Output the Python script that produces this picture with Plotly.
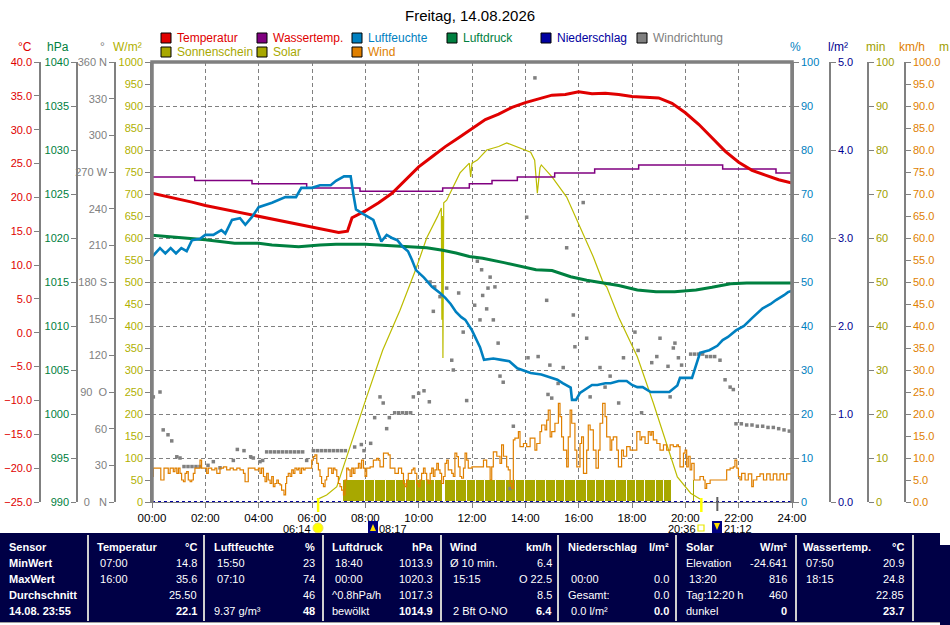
import plotly.graph_objects as go

# ---------------- data (hours since 00:00) ----------------
temp_h = [0, 0.5, 1, 1.5, 2, 2.5, 3, 3.5, 4, 4.5, 5, 5.5, 6, 6.5, 7, 7.33, 7.5, 8, 8.5, 9, 9.5, 10,
          10.5, 11, 11.5, 12, 12.5, 13, 13.5, 14, 14.5, 15, 15.5, 16, 16.5, 17, 17.5, 18, 18.5, 19,
          19.5, 20, 20.5, 21, 21.5, 22, 22.5, 23, 23.5, 24]
temp_c = [20.6, 20.2, 19.7, 19.3, 18.8, 18.4, 18.0, 17.6, 17.2, 16.8, 16.4, 16.0, 15.6, 15.2, 14.8,
          15.0, 17.0, 18.0, 19.2, 20.6, 22.5, 24.5, 26.0, 27.5, 28.8, 30.2, 31.5, 32.3, 33.3, 34.0,
          34.6, 35.1, 35.2, 35.6, 35.3, 35.4, 35.2, 34.9, 34.8, 34.7, 33.9, 32.5, 30.8, 28.8, 26.8,
          25.2, 24.0, 23.3, 22.6, 22.1]

water_h = [0, 1.6, 3.75, 5.8, 7.8, 10.9, 11.9, 12.75, 13.7, 15.1, 16.6, 18.25, 21.4, 23.4, 24]
water_c = [23.0, 22.5, 22.0, 21.4, 20.9, 21.4, 22.0, 22.5, 23.0, 23.6, 24.2, 24.8, 24.2, 23.6, 23.6]

hum_h = [0, 0.3, 0.5, 0.7, 0.9, 1.1, 1.3, 1.5, 1.8, 2.0, 2.3, 2.6, 2.75, 3.0, 3.3, 3.5, 3.75, 4.0,
         4.5, 5.0, 5.4, 5.6, 6.0, 6.3, 6.7, 6.9, 7.2, 7.45, 7.55, 7.65, 7.85, 8.1, 8.3, 8.6, 8.8,
         9.0, 9.2, 9.4, 9.6, 9.75, 9.9, 10.2, 10.5, 10.8, 11.0, 11.2, 11.4, 11.6, 11.75, 12.0, 12.3,
         12.45, 12.8, 13.1, 13.4, 13.7, 14.0, 14.2, 14.6, 14.9, 15.2, 15.4, 15.7, 15.75, 15.9, 16.05,
         16.3, 16.5, 16.7, 17.0, 17.2, 17.5, 17.8, 18.0, 18.2, 18.4, 18.7, 19.0, 19.4, 19.7, 19.8,
         20.25, 20.4, 20.55, 20.9, 21.2, 21.4, 21.6, 21.9, 22.2, 22.5, 22.9, 23.2, 23.4, 23.7, 23.85, 24]
hum_pct = [55.7, 57.7, 56.5, 57.7, 56.5, 57.7, 57.0, 59.5, 59.8, 60.7, 60.7, 61.8, 61.0, 64.1, 64.5,
           63.0, 64.8, 67.0, 68.0, 69.3, 69.3, 71.4, 71.4, 72.0, 72.0, 73.0, 74.0, 74.0, 70.0, 66.5,
           65.7, 64.8, 64.1, 59.2, 60.7, 60.0, 59.5, 58.0, 57.0, 55.0, 52.7, 51.0, 48.9, 47.5, 46.4,
           45.0, 43.2, 42.0, 41.4, 39.0, 35.2, 32.3, 32.6, 32.3, 32.0, 30.4, 29.8, 29.3, 29.0, 28.4,
           27.8, 27.0, 26.0, 23.2, 23.2, 24.8, 25.8, 26.6, 26.6, 27.0, 27.0, 27.5, 27.5, 26.6, 26.1,
           26.1, 25.0, 25.0, 25.0, 26.5, 28.2, 28.2, 31.0, 33.9, 34.5, 35.5, 36.8, 37.5, 39.0, 40.0,
           41.8, 44.0, 45.0, 45.9, 47.0, 47.7, 48.0]

press_h = [0, 1.25, 2.0, 3.1, 4.0, 4.5, 5.5, 6.3, 6.9, 8.0, 9.5, 10.3, 10.9, 11.4, 11.9, 12.4, 13.2,
           13.8, 14.4, 15.0, 15.7, 16.3, 16.9, 17.5, 18.2, 18.9, 19.6, 20.4, 21.0, 21.7, 22.3, 23.0, 24]
press_hpa = [1020.3, 1020.0, 1019.8, 1019.4, 1019.4, 1019.2, 1019.0, 1019.2, 1019.3, 1019.3, 1019.0,
             1018.9, 1018.6, 1018.3, 1017.9, 1017.7, 1017.2, 1016.8, 1016.4, 1016.3, 1015.6, 1015.2,
             1014.9, 1014.6, 1014.1, 1013.9, 1013.9, 1014.1, 1014.4, 1014.8, 1014.9, 1014.9, 1014.9]

solar_h = [6.2, 6.55, 6.93, 7.3, 7.55, 8.05, 8.65, 9.3, 9.9, 10.3, 10.7, 10.85, 10.87, 10.89, 10.91,
           10.94, 11.05, 11.55, 11.9, 11.95, 12.0, 12.2, 12.55, 13.0, 13.3, 13.8, 14.2, 14.35, 14.45,
           14.55, 14.6, 15.0, 15.55, 16.05, 16.55, 16.93, 17.05, 17.5, 18.2, 18.8, 19.3, 19.7, 20.2, 20.55]
solar_w = [6, 16, 35, 103, 145, 239, 345, 436, 530, 600, 648, 668, 414, 650, 327, 680, 686, 748, 770,
           739, 770, 777, 800, 808, 816, 804, 795, 777, 702, 760, 766, 739, 693, 625, 557, 497, 489,
           420, 330, 225, 134, 57, 20, 7]

sun_start = [7.15, 7.99, 8.36, 8.76, 9.15, 9.53, 9.90, 10.28, 10.60, 11.00, 11.40, 11.80, 12.15,
             12.50, 12.90, 13.28, 13.65, 14.00, 14.40, 14.78, 15.15, 15.50, 15.90, 16.30, 16.65,
             17.00, 17.40, 17.80, 18.15, 18.50, 18.90, 19.20, 20.30]
sun_end = [7.99, 8.36, 8.76, 9.15, 9.53, 9.90, 10.28, 10.60, 10.90, 11.40, 11.80, 12.15, 12.50,
           12.90, 13.28, 13.65, 14.00, 14.40, 14.78, 15.15, 15.50, 15.90, 16.30, 16.65, 17.00,
           17.40, 17.80, 18.15, 18.50, 18.90, 19.20, 19.49, 20.37]
sun_min = [5, 5, 5, 5, 5, 5, 5, 5, 5, 5, 5, 5, 5, 5, 5, 5, 5, 5, 5, 5, 5, 5, 5, 5, 5, 5, 5, 5, 5, 5,
           5, 5, 5]

wind_h = [0.0, 0.05, 0.3, 0.33, 0.43, 0.45, 0.61, 0.68, 0.74, 0.8, 0.86, 0.93, 0.99, 1.05, 1.11, 1.18,
          1.24, 1.3, 1.36, 1.43, 1.49, 1.55, 1.61, 1.74, 1.8, 1.86, 1.99, 2.05, 2.11, 2.24, 2.36, 2.43,
          2.55, 2.68, 2.8, 2.93, 3.05, 3.18, 3.3, 3.43, 3.49, 3.55, 3.61, 3.74, 3.86, 3.99, 4.05, 4.11,
          4.18, 4.24, 4.3, 4.36, 4.43, 4.49, 4.55, 4.61, 4.68, 4.74, 4.8, 4.86, 4.95, 5.01, 5.05, 5.11,
          5.18, 5.24, 5.3, 5.36, 5.43, 5.49, 5.55, 5.61, 5.68, 5.74, 5.86, 5.99, 6.05, 6.11, 6.18, 6.24,
          6.3, 6.36, 6.43, 6.49, 6.55, 6.61, 6.68, 6.74, 6.8, 6.86, 6.93, 6.99, 7.05, 7.11, 7.18, 7.24,
          7.3, 7.36, 7.43, 7.49, 7.55, 7.61, 7.68, 7.74, 7.8, 7.86, 7.93, 7.99, 8.05, 8.18, 8.3, 8.36,
          8.43, 8.49, 8.55, 8.68, 8.8, 8.86, 8.93, 9.05, 9.11, 9.24, 9.36, 9.43, 9.49, 9.55, 9.61, 9.68,
          9.74, 9.8, 9.86, 9.93, 9.99, 10.05, 10.11, 10.18, 10.24, 10.3, 10.36, 10.43, 10.49, 10.55,
          10.61, 10.68, 10.74, 10.8, 10.86, 10.93, 10.99, 11.05, 11.11, 11.24, 11.3, 11.36, 11.43, 11.49,
          11.55, 11.61, 11.68, 11.74, 11.8, 11.86, 12.0, 12.3, 12.43, 12.55, 12.68, 12.74, 12.8, 12.93,
          13.05, 13.11, 13.18, 13.3, 13.36, 13.43, 13.49, 13.55, 13.61, 13.74, 13.8, 13.93, 14.05, 14.18,
          14.3, 14.36, 14.43, 14.55, 14.61, 14.74, 14.8, 14.86, 14.93, 14.99, 15.11, 15.24, 15.3, 15.36,
          15.43, 15.55, 15.61, 15.68, 15.74, 15.86, 15.93, 16.05, 16.11, 16.18, 16.3, 16.36, 16.43, 16.55,
          16.65, 16.74, 16.8, 16.9, 16.99, 17.05, 17.18, 17.24, 17.3, 17.43, 17.49, 17.61, 17.68, 17.8,
          17.93, 18.05, 18.18, 18.3, 18.36, 18.49, 18.61, 18.68, 18.74, 18.8, 18.93, 19.05, 19.18, 19.3,
          19.43, 19.55, 19.68, 19.74, 19.8, 19.93, 19.99, 20.05, 20.11, 20.18, 20.24, 20.33, 20.43, 20.55,
          20.68, 20.74, 20.8, 20.93, 21.43, 21.55, 21.68, 21.8, 21.86, 21.93, 21.99, 22.05, 22.11, 22.24,
          22.36, 22.49, 22.55, 22.68, 22.8, 22.93, 23.05, 23.18, 23.3, 23.43, 23.55, 23.68, 23.8, 23.9, 24.0]
wind_kmh = [5.8, 7.7, 7.7, 5.0, 5.0, 7.7, 6.5, 7.7, 7.7, 6.9, 7.7, 6.5, 7.7, 6.5, 5.0, 4.6,
            6.5, 6.9, 5.0, 4.6, 5.0, 6.5, 7.7, 7.7, 9.5, 7.7, 7.7, 6.5, 7.7, 7.3, 7.7, 6.5,
            7.7, 8.0, 7.3, 7.7, 7.3, 7.7, 7.3, 6.5, 4.6, 4.6, 7.7, 7.7, 7.3, 7.7, 6.5, 7.7,
            5.8, 4.6, 6.5, 5.0, 4.2, 5.8, 3.5, 4.2, 5.0, 4.2, 3.9, 2.7, 1.6, 4.2, 5.8, 6.5,
            5.8, 7.3, 6.5, 7.7, 7.3, 7.7, 6.5, 7.7, 7.3, 7.7, 7.7, 9.5, 10.3, 10.7, 8.8, 7.3,
            5.8, 4.2, 3.5, 5.0, 5.8, 7.7, 7.7, 6.5, 7.7, 7.3, 5.8, 4.2, 3.5, 2.7, 1.6, 5.0,
            7.7, 7.3, 5.8, 7.7, 6.5, 7.7, 7.7, 8.8, 7.7, 9.5, 7.7, 5.8, 7.7, 8.0, 9.5, 9.5,
            9.9, 9.5, 8.0, 11.1, 11.1, 10.7, 7.7, 7.7, 6.5, 7.7, 6.5, 4.2, 3.5, 5.0, 6.5, 6.5,
            7.3, 7.7, 6.5, 4.2, 3.5, 5.0, 6.5, 7.7, 6.5, 5.0, 4.2, 6.5, 7.7, 5.8,
            7.3, 8.8, 7.3, 6.5, 4.2, 5.8, 8.8, 9.5, 7.3, 6.5, 5.8, 11.1, 10.3, 8.0,
            5.8, 5.4, 7.7, 11.1, 9.5, 7.7, 8.0, 8.0, 9.5, 8.0, 5.0, 8.0, 11.4, 10.4,
            8.8, 13.0, 10.4, 8.0, 7.3, 4.2, 3.1, 14.1, 14.5, 16.0, 12.6, 13.3, 12.6, 14.5,
            14.5, 11.8, 13.3, 16.0, 17.5, 16.4, 18.6, 20.9, 14.8, 16.0, 17.9, 22.4, 19.4, 14.8,
            11.8, 8.0, 14.8, 20.9, 17.9, 11.8, 8.0, 13.3, 14.8, 6.5, 11.8, 17.5, 16.4, 11.8,
            7.7, 11.8, 17.9, 22.4, 19.4, 14.8, 11.8, 14.1, 14.8, 11.8, 8.0, 11.8, 10.4, 12.6,
            11.8, 11.8, 16.0, 14.1, 14.8, 13.3, 16.0, 15.2, 16.0, 14.1, 13.3, 11.8, 13.0, 11.8,
            13.0, 12.6, 13.0, 12.6, 8.0, 11.1, 11.8, 8.0, 10.4, 7.3, 8.8, 5.0, 5.0, 5.8,
            5.0, 3.1, 4.2, 5.0, 5.0, 7.3, 7.7, 8.0, 9.5, 7.7, 5.8, 5.0, 6.5, 5.0,
            6.4, 3.5, 5.0, 5.8, 6.4, 5.0, 6.4, 5.0, 6.4, 5.0, 6.4, 5.0, 6.4, 6.4, 6.4]

wdir_h = [0.05, 0.3, 0.42, 0.6, 0.74, 0.93, 1.05, 1.2, 1.35, 1.5, 1.65, 1.8, 2.1, 2.3, 2.55, 3.05, 3.2,
          3.45, 3.7, 3.8, 4.05, 4.15, 4.3, 4.45, 4.6, 4.75, 4.9, 5.05, 5.2, 5.35, 5.5, 5.65, 5.8, 6.05,
          6.2, 6.35, 6.5, 6.65, 6.8, 6.95, 7.1, 7.25, 7.6, 7.85, 7.95, 8.2, 8.35, 8.55, 8.67, 8.8, 8.9,
          9.1, 9.25, 9.4, 9.55, 9.7, 9.8, 10.0, 10.2, 10.4, 10.43, 10.55, 10.6, 10.8, 11.05, 11.24, 11.3,
          11.5, 11.67, 11.8, 12.1, 12.2, 12.3, 12.36, 12.4, 12.55, 12.6, 12.68, 12.8, 12.86, 12.98, 13.05,
          13.17, 13.43, 13.55, 14.05, 14.1, 14.36, 14.48, 14.8, 14.85, 14.92, 14.99, 15.23, 15.42, 15.55,
          15.8, 15.86, 16.17, 16.3, 16.43, 16.8, 16.99, 17.18, 17.5, 17.68, 18.11, 18.23, 18.36, 18.74,
          18.93, 19.05, 19.35, 19.43, 19.55, 19.61, 19.74, 19.86, 20.2, 20.35, 20.5, 20.65, 20.8, 20.95,
          21.1, 21.3, 21.49, 21.68, 21.8, 21.9, 22.1, 22.3, 22.5, 22.7, 22.9, 23.1, 23.3, 23.5, 23.7, 23.9]
wdir_deg = [86, 90, 59, 55, 50, 37, 36, 29, 29, 29, 29, 29, 30, 33, 28, 34, 43, 42, 37, 36, 33, 34, 41,
            41, 41, 41, 41, 41, 41, 41, 41, 41, 34, 42, 42, 42, 42, 42, 42, 42, 42, 42, 45, 47, 42, 48,
            69, 86, 81, 60, 69, 73, 73, 73, 73, 73, 86, 89, 91, 82, 180, 156, 176, 168, 175, 116, 108,
            171, 139, 83, 161, 197, 149, 190, 169, 158, 175, 184, 149, 176, 130, 103, 98, 11, 62, 233,
            118, 347, 119, 165, 88, 112, 85, 97, 110, 208, 153, 127, 245, 134, 86, 110, 94, 103, 81, 118,
            139, 124, 73, 114, 119, 134, 111, 86, 126, 130, 118, 112, 121, 121, 121, 121, 119, 119, 119,
            116, 100, 94, 92, 64, 64, 63, 63, 62, 62, 61, 61, 60, 59, 58]

rain_h = [0, 24]
rain_l = [0.0, 0.0]

sunrise_h, sunset_h, moonrise_h = 6.23, 20.6, 21.2

hour_ticks = list(range(0, 25, 2))
hour_text = ["%02d:00" % h for h in hour_ticks]
deg_ticks = list(range(0, 361, 30))
deg_text = ["0\u00a0\u00a0\u00a0N", "30", "60", "90\u00a0\u00a0O", "120", "150", "180 S", "210", "240",
            "270 W", "300", "330", "360 N"]

table_rows = ["Sensor", "MinWert", "MaxWert", "Durchschnitt", "14.08. 23:55"]
table_cols = [
    ("Temperatur", "°C", [("\u00a007:00", "14.8"), ("\u00a016:00", "35.6"), ("", "25.50"), ("", "22.1")]),
    ("Luftfeuchte", "%", [("\u00a015:50", "23"), ("\u00a007:10", "74"), ("", "46"), ("9.37 g/m³", "48")]),
    ("Luftdruck", "hPa", [("\u00a018:40", "1013.9"), ("\u00a000:00", "1020.3"), ("^0.8hPa/h", "1017.3"),
                          ("bewölkt", "1014.9")]),
    ("Wind", "km/h", [("Ø 10 min.", "6.4"), ("\u00a015:15", "O 22.5"), ("", "8.5"), ("\u00a02 Bft O-NO", "6.4")]),
    ("Niederschlag", "l/m²", [("", ""), ("\u00a000:00", "0.0"), ("Gesamt:", "0.0"), ("\u00a00.0 l/m²", "0.0")]),
    ("Solar", "W/m²", [("Elevation", "-24.641"), ("\u00a013:20", "816"), ("Tag:12:20 h", "460"), ("dunkel", "0")]),
    ("Wassertemp.", "°C", [("\u00a007:50", "20.9"), ("\u00a018:15", "24.8"), ("", "22.85"), ("", "23.7")]),
]

# ---------------- colours ----------------
RED, PURPLE, BLUE, GREEN = "#e00000", "#800080", "#0080c0", "#008040"
DKBLUE, GRAY, OLIVE, SOLAR, ORANGE = "#0000a0", "#808080", "#a8a800", "#bcbc00", "#e08000"
NAVY = "#000046"
FONT = "Liberation Sans"
FS = 11

W, H = 950, 625


def px(x):
    return x / W


def py(y):
    return 1 - y / H


fig = go.Figure()

# Sonnenschein (base axis "min")
fig.add_trace(go.Bar(x=[(a + b) / 2 for a, b in zip(sun_start, sun_end)],
                     width=[b - a for a, b in zip(sun_start, sun_end)], y=sun_min,
                     marker=dict(color=OLIVE, line=dict(color="white", width=1)),
                     yaxis="y", name="Sonnenschein"))
fig.add_trace(go.Scatter(x=solar_h, y=solar_w, mode="lines", line=dict(color=SOLAR, width=1.2),
                         yaxis="y2", name="Solar"))
fig.add_trace(go.Scatter(x=water_h, y=water_c, mode="lines", line=dict(color=PURPLE, width=1.5, shape="hv"),
                         yaxis="y3", name="Wassertemp."))
fig.add_trace(go.Scatter(x=temp_h, y=temp_c, mode="lines", line=dict(color=RED, width=3),
                         yaxis="y3", name="Temperatur"))
fig.add_trace(go.Scatter(x=press_h, y=press_hpa, mode="lines", line=dict(color=GREEN, width=3),
                         yaxis="y4", name="Luftdruck"))
fig.add_trace(go.Scatter(x=wdir_h, y=wdir_deg, mode="markers",
                         marker=dict(color=GRAY, size=3.5, symbol="square"),
                         yaxis="y5", name="Windrichtung"))
fig.add_trace(go.Scatter(x=hum_h, y=hum_pct, mode="lines", line=dict(color=BLUE, width=2.6),
                         yaxis="y6", name="Luftfeuchte"))
fig.add_trace(go.Scatter(x=rain_h, y=rain_l, mode="lines", line=dict(color=DKBLUE, width=2, dash="dot"),
                         yaxis="y7", name="Niederschlag"))
fig.add_trace(go.Scatter(x=wind_h, y=wind_kmh, mode="lines", line=dict(color=ORANGE, width=1.2, shape="hv"),
                         yaxis="y8", name="Wind"))

ydom = [py(502), py(62)]


def yax(color, rng, side, pos=None, **kw):
    d = dict(range=rng, side=side, showgrid=False, zeroline=False, showline=True, linecolor=GRAY,
             linewidth=1.5, ticks="outside", ticklen=5, tickcolor=GRAY, automargin=False,
             tickfont=dict(color=color, size=FS, family=FONT), fixedrange=True)
    if pos is None:
        d["anchor"] = "x"
    else:
        d["anchor"] = "free"
        d["position"] = pos
    d.update(kw)
    return d


fig.update_layout(
    width=W, height=H, margin=dict(l=0, r=0, t=0, b=0, pad=0, autoexpand=False),
    paper_bgcolor="white", plot_bgcolor="white", showlegend=False, bargap=0,
    xaxis=dict(domain=[px(152), px(792)], range=[0, 24], tickvals=hour_ticks, ticktext=hour_text,
               showgrid=True, gridcolor=GRAY, griddash="4px,3px", gridwidth=1, zeroline=False,
               showline=True, linecolor=GRAY, ticks="outside", ticklen=5, tickcolor=GRAY,
               automargin=False, fixedrange=True,
               tickfont=dict(color="black", size=FS + 0.5, family=FONT)),
    yaxis=yax("#a0a000", [0, 100], "right", px(868), dtick=10, domain=ydom,
              showgrid=True, gridcolor=GRAY, griddash="4px,3px", gridwidth=1),
    yaxis2=yax("#b0b000", [0, 1000], "left", None, dtick=50, overlaying="y"),
    yaxis3=yax(RED, [-25, 40], "left", px(40), dtick=5, tickformat=".1f", overlaying="y"),
    yaxis4=yax(GREEN, [990, 1040], "left", px(77), dtick=5, overlaying="y"),
    yaxis5=yax(GRAY, [0, 360], "left", px(115), tickvals=deg_ticks, ticktext=deg_text, overlaying="y"),
    yaxis6=yax(BLUE, [0, 100], "right", None, dtick=10, overlaying="y"),
    yaxis7=yax("#000090", [0, 5], "right", px(830), dtick=1, tickformat=".1f", overlaying="y"),
    yaxis8=yax(ORANGE, [0, 100], "right", px(905), dtick=5, tickformat=".1f", overlaying="y"),
    yaxis9=yax(OLIVE, [-2.3, 97.7], "right", px(945), dtick=10, showticklabels=False, overlaying="y"),
)

shapes = []
ann = []

# frame of the plot area
shapes.append(dict(type="path", xref="x domain", yref="y domain", path="M 0,0 L 0,1 L 1,1 L 1,0",
                   line=dict(color=GRAY, width=3.5)))


def text(x, y, s, color="black", size=FS, anchor="left", bold=False):
    ann.append(dict(x=px(x), y=py(y), xref="paper", yref="paper", text=("<b>%s</b>" % s) if bold else s,
                    showarrow=False, xanchor=anchor, yanchor="middle", borderpad=0,
                    font=dict(color=color, size=size, family=FONT)))


text(470, 15, "Freitag, 14.08.2026", size=15, anchor="center")

# axis titles
for x, s, c, a in [(25, "°C", RED, "center"), (58, "hPa", GREEN, "center"), (102, "°", GRAY, "center"),
                   (127, "W/m²", "#b0b000", "center"), (795, "%", BLUE, "center"),
                   (838, "l/m²", "#000090", "center"), (875, "min", "#a0a000", "center"),
                   (912, "km/h", ORANGE, "center"), (950, "m", "#a0a000", "right")]:
    text(x, 47, s, c, size=FS + 1, anchor=a)

# legend
legend = [(161, 38, "Temperatur", RED, RED), (257, 38, "Wassertemp.", PURPLE, RED),
          (352, 38, "Luftfeuchte", BLUE, BLUE), (447, 38, "Luftdruck", GREEN, GREEN),
          (541, 38, "Niederschlag", DKBLUE, DKBLUE), (637, 38, "Windrichtung", GRAY, GRAY),
          (161, 52, "Sonnenschein", OLIVE, OLIVE), (257, 52, "Solar", OLIVE, OLIVE),
          (352, 52, "Wind", ORANGE, ORANGE)]
for x, y, s, sq, tc in legend:
    shapes.append(dict(type="rect", xref="paper", yref="paper", x0=px(x), x1=px(x + 10),
                       y0=py(y + 5), y1=py(y - 5), fillcolor=sq, line=dict(color="black", width=1)))
    text(x + 15, y, s, tc, size=FS + 1)

# sunrise / sunset / moon marks below the time axis
shapes.append(dict(type="line", xref="x", yref="paper", x0=sunrise_h, x1=sunrise_h, y0=py(498), y1=py(512),
                   line=dict(color="#ffff00", width=2.5)))
shapes.append(dict(type="line", xref="x", yref="paper", x0=sunset_h, x1=sunset_h, y0=py(498), y1=py(512),
                   line=dict(color="#ffff00", width=2.5)))
shapes.append(dict(type="line", xref="x", yref="paper", x0=moonrise_h, x1=moonrise_h, y0=py(497), y1=py(511),
                   line=dict(color="#606060", width=2)))
shapes.append(dict(type="circle", xref="paper", yref="paper", x0=px(313), x1=px(323), y0=py(533), y1=py(523),
                   fillcolor="#ffff00", line=dict(color="#f0e060", width=1)))
shapes.append(dict(type="rect", xref="paper", yref="paper", x0=px(698), x1=px(704), y0=py(531), y1=py(525),
                   line=dict(color="#e8e800", width=1.2)))
for mx in (368, 712):
    shapes.append(dict(type="rect", xref="paper", yref="paper", x0=px(mx), x1=px(mx + 10),
                       y0=py(533), y1=py(521), fillcolor="#000080", line=dict(width=0)))
# moon arrows (up at 08:17, down at 21:12)
shapes.append(dict(type="path", xref="paper", yref="paper", fillcolor="#ffe000", line=dict(width=0),
                   path="M %f,%f L %f,%f L %f,%f Z" % (px(370), py(531), px(376), py(531), px(373), py(524))))
shapes.append(dict(type="path", xref="paper", yref="paper", fillcolor="#ffe000", line=dict(width=0),
                   path="M %f,%f L %f,%f L %f,%f Z" % (px(714), py(523), px(720), py(523), px(717), py(530))))
text(312, 529, "06:14", anchor="right")
text(378, 529, "08:17")
text(697, 529, "20:36", anchor="right")
text(723, 529, "21:12")

# ---------------- table ----------------
shapes.append(dict(type="rect", xref="paper", yref="paper", x0=0, x1=px(940), y0=py(622), y1=py(533),
                   fillcolor=NAVY, line=dict(width=0)))
shapes.append(dict(type="rect", xref="paper", yref="paper", x0=px(940), x1=1, y0=0, y1=py(545),
                   fillcolor=NAVY, line=dict(width=0)))
shapes.append(dict(type="line", xref="paper", yref="paper", x0=0, x1=px(940), y0=py(622.5), y1=py(622.5),
                   line=dict(color="#a0a0a0", width=1)))
for sx in [88, 204, 323, 441, 558, 676, 796, 913]:
    shapes.append(dict(type="line", xref="paper", yref="paper", x0=px(sx), x1=px(sx), y0=py(621),
                       y1=py(535), line=dict(color="#d0d0d0", width=2)))

row_y = [547, 563, 579, 595, 611]
for r, s in enumerate(table_rows):
    text(8, row_y[r], s, "white", bold=True)
col_left = [96, 213, 331, 449, 567, 685, 802]
col_right = [198, 316, 434, 553, 670, 788, 905]
for (head, unit, rows), xl, xr in zip(table_cols, col_left, col_right):
    text(xl, row_y[0], head, "white", bold=True)
    text(xr, row_y[0], unit, "white", anchor="right", bold=True)
    for i, (lab, val) in enumerate(rows):
        last = i == len(rows) - 1
        if lab:
            text(xl, row_y[i + 1], lab, "white")
        if val:
            text(xr, row_y[i + 1], val, "white", anchor="right", bold=last)

fig.update_layout(shapes=shapes, annotations=ann)
fig.write_html("out.html", config={"displayModeBar": False},
               post_script="document.body.style.margin='0';document.body.style.overflow='hidden';")
